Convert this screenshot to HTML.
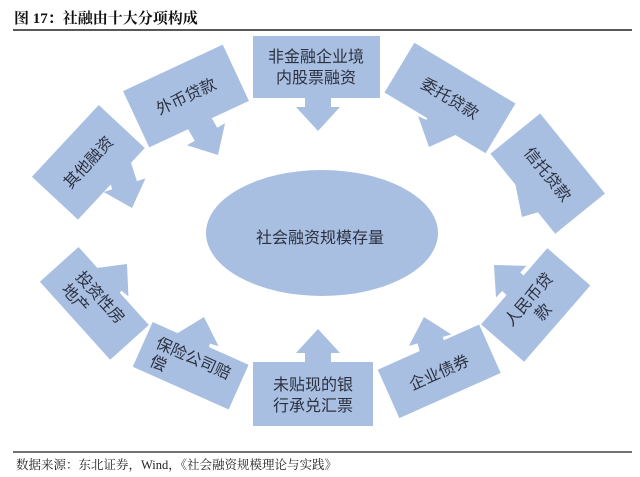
<!DOCTYPE html>
<html><head><meta charset="utf-8"><style>
html,body{margin:0;padding:0;background:#fff;}
svg{display:block;}
</style></head><body>
<svg width="640" height="477" viewBox="0 0 640 477" xmlns="http://www.w3.org/2000/svg">
<rect width="640" height="477" fill="#fff"/>
<text x="14" y="23" font-family="'Liberation Serif','Noto Serif CJK SC',serif" font-weight="bold" font-size="15" fill="#111">图 17：社融由十大分项构成</text>
<line x1="13" y1="30" x2="632" y2="30" stroke="#222" stroke-width="1.5"/>
<g fill="#a9bfe1">
<defs><polygon id="ar" points="-13,-48 13,-48 13,-24 22,-24 0,0 -22,-24 -13,-24"/></defs>
<use href="#ar" transform="translate(318,131) rotate(0)"/>
<use href="#ar" transform="translate(218,155) rotate(-30)"/>
<use href="#ar" transform="translate(132,208) rotate(-18)"/>
<use href="#ar" transform="translate(429,147) rotate(23)"/>
<use href="#ar" transform="translate(522,217) rotate(31)"/>
<use href="#ar" transform="translate(318,329) rotate(180)"/>
<use href="#ar" transform="translate(424,317) rotate(165)"/>
<use href="#ar" transform="translate(494,265) rotate(134)"/>
<use href="#ar" transform="translate(204,317) rotate(-164)"/>
<use href="#ar" transform="translate(127,264) rotate(-140)"/>
<rect x="-63" y="-31" width="127" height="62" transform="translate(316,67)"/>
<rect x="-55" y="-31" width="110" height="62" transform="translate(186,96) rotate(-25)"/>
<rect x="-49" y="-31" width="98" height="63" transform="translate(88,162) rotate(-47)"/>
<rect x="-59" y="-29" width="118" height="58" transform="translate(450,98) rotate(31)"/>
<rect x="-52" y="-32" width="103" height="64" transform="translate(548,174) rotate(51)"/>
<rect x="-60" y="-32" width="120" height="64" transform="translate(313,394)"/>
<rect x="-55" y="-27" width="111" height="53" transform="translate(439,372) rotate(-24)"/>
<rect x="-50" y="-28" width="101" height="57" transform="translate(535,305) rotate(-49)"/>
<rect x="-52" y="-25" width="105" height="49" transform="translate(190,366) rotate(24)"/>
<rect x="-52" y="-26" width="105" height="52" transform="translate(94,303) rotate(48)"/>
<ellipse cx="322" cy="233" rx="116" ry="63"/>
</g>
<g font-family="'Liberation Sans','Noto Sans CJK SC',sans-serif" font-size="16" fill="#2b3040" text-anchor="middle">
<text x="320" y="243">社会融资规模存量</text>
<text transform="translate(316,67)"><tspan x="0" y="-5">非金融企业境</tspan><tspan x="0" y="16">内股票融资</tspan></text>
<text transform="translate(186,96) rotate(-25)" y="6">外币贷款</text>
<text transform="translate(88,162) rotate(-47)" y="6">其他融资</text>
<text transform="translate(450,98) rotate(31)" y="6">委托贷款</text>
<text transform="translate(548,174) rotate(51)" y="6">信托贷款</text>
<text transform="translate(313,394)"><tspan x="0" y="-4">未贴现的银</tspan><tspan x="0" y="17">行承兑汇票</tspan></text>
<text transform="translate(439,372) rotate(-24)" y="6">企业债券</text>
<text transform="translate(535,305) rotate(-49)"><tspan x="0" y="-3">人民币贷</tspan><tspan x="0" y="16">款</tspan></text>
<text transform="translate(190,366) rotate(24)"><tspan x="0" y="-3">保险公司赔</tspan><tspan x="-30" y="16">偿</tspan></text>
<text transform="translate(94,303) rotate(48)"><tspan x="0" y="-3">投资性房</tspan><tspan x="-16" y="16">地产</tspan></text>
</g>
<line x1="13" y1="452" x2="632" y2="452" stroke="#444" stroke-width="1.5"/>
<text x="16" y="469" font-family="'Liberation Serif','Noto Serif CJK SC',serif" font-size="12.5" fill="#222">数据来源：东北证券，Wind，《社会融资规模理论与实践》</text>
</svg>
</body></html>
